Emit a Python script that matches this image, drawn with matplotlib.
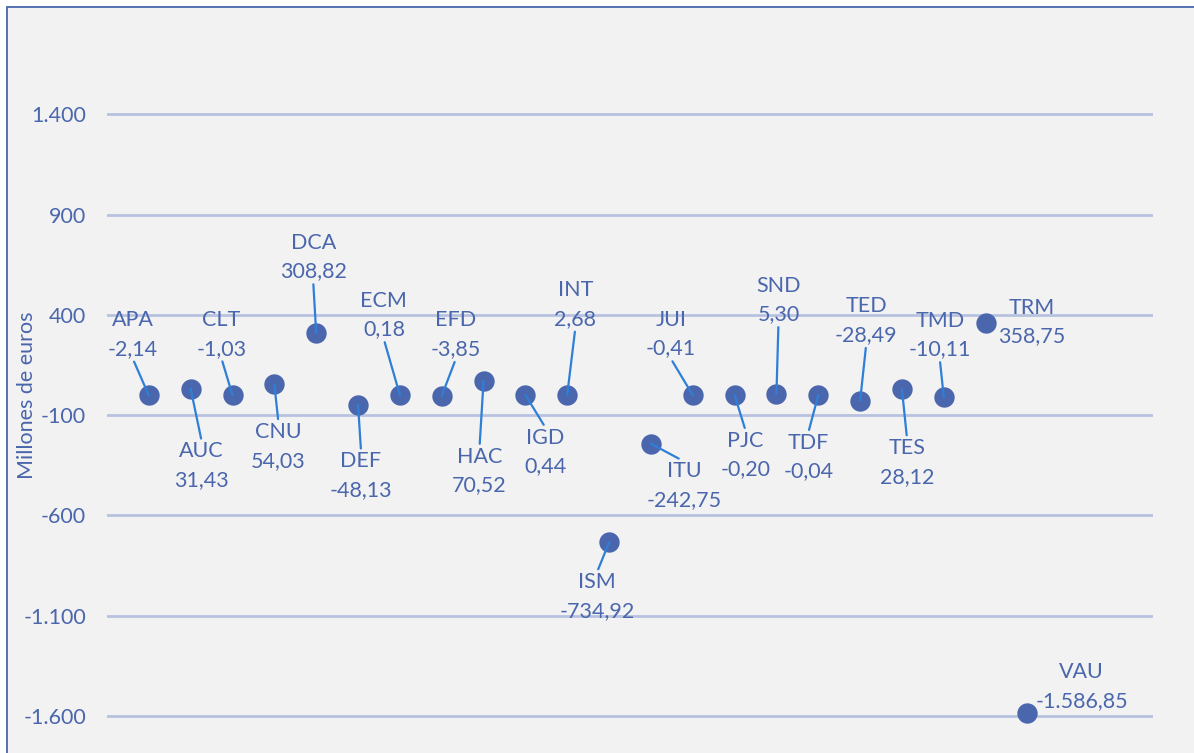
import matplotlib
matplotlib.use("Agg")
import matplotlib.pyplot as plt
from matplotlib.patches import Rectangle

plt.rcParams['font.family'] = ['Lato', 'DejaVu Sans']

# ===================== data ==============================
codes = ['APA', 'AUC', 'CLT', 'CNU', 'DCA', 'DEF', 'ECM', 'EFD', 'HAC', 'IGD', 'INT',
         'ISM', 'ITU', 'JUI', 'PJC', 'SND', 'TDF', 'TED', 'TES', 'TMD', 'TRM', 'VAU']
values = [-2.14, 31.43, -1.03, 54.03, 308.82, -48.13, 0.18, -3.85, 70.52, 0.44, 2.68,
          -734.92, -242.75, -0.41, -0.20, 5.30, -0.04, -28.49, 28.12, -10.11, 358.75, -1586.85]
y_ticks = [-1600, -1100, -600, -100, 400, 900, 1400]

# label offsets from the point, in pixels (x right, y up)
label_dx = [-16, 11, -11, 4, -3, 3, -16, 14, -4, 20, 8, -12, 33, -22, 11, 2, -10, 6, 5, -4, 46, 54]
label_dy = [61, -77, 61, -62, 76, -71, 80, 61, -90, -57, 90, -54, -42, 61, -60, 94, -62, 80, -73, 62, 1, 27]
leader = [True] * 20 + [False, False]

W, H = 1194, 753
BLUE = '#4A66AC'
LEADER = '#2F7FD6'
GRID = '#B7C2DF'
FS = 15.5


def es_fmt(v, dec):
    s = f"{v:,.{dec}f}"
    return s.replace(',', '#').replace('.', ',').replace('#', '.')


fig = plt.figure(figsize=(W / 100, H / 100), dpi=100, facecolor='white')
fig.patches.append(Rectangle((7 / W, -0.05), 1.1, (H - 7) / H + 0.05, transform=fig.transFigure,
                             facecolor='#F2F2F2', edgecolor=BLUE, lw=1.3, zorder=-10))

# y px: -1700 at 736, 1900 at 14
ax = fig.add_axes([107 / W, (H - 736) / H, 1046 / W, (736 - 14) / H])
ax.set_facecolor('none')
ax.set_xlim(0, 25)
ax.set_ylim(-1700, 1900)
for s in ax.spines.values():
    s.set_visible(False)

x = list(range(1, len(codes) + 1))
for t in y_ticks:
    ax.axhline(t, color=GRID, lw=2, zorder=0)

ax.scatter(x, values, s=215, color=BLUE, zorder=2, clip_on=False, linewidths=0)

for i, code in enumerate(codes):
    txt = f"{code}\n{es_fmt(values[i], 2)}"
    dy = label_dy[i]
    arrow = None
    if leader[i]:
        arrow = dict(arrowstyle='-', color=LEADER, lw=1.6, shrinkA=0, shrinkB=0,
                     relpos=(0.5, 0.0) if dy > 0 else (0.5, 1.0))
    ax.annotate(txt, (x[i], values[i]), xytext=(label_dx[i], dy), textcoords='offset pixels',
                ha='center', va='center', fontsize=FS, color=BLUE, linespacing=1.55,
                arrowprops=arrow, zorder=3, annotation_clip=False)

ax.set_xticks([])
ax.set_yticks(y_ticks)
ax.set_yticklabels([es_fmt(t, 0) for t in y_ticks])
ax.tick_params(axis='y', length=0, pad=15, labelsize=FS, labelcolor=BLUE)
ax.set_ylabel('Millones de euros', fontsize=FS, color=BLUE)
ax.yaxis.set_label_coords((37 - 107) / 1046, (736 - 395) / (736 - 14))

fig.savefig('out.png', dpi=100, facecolor=fig.get_facecolor())
